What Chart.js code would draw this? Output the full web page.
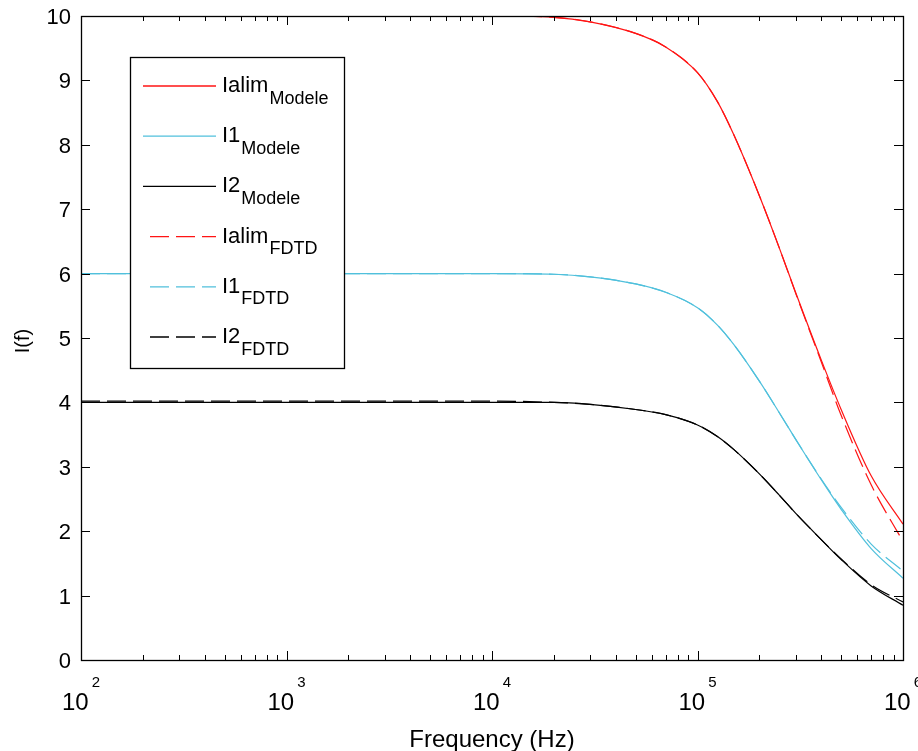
<!DOCTYPE html>
<html>
<head>
<meta charset="utf-8">
<script src="https://cdn.jsdelivr.net/npm/chart.js@4.4.1/dist/chart.umd.min.js"></script>
<style>
  html, body { margin: 0; padding: 0; background: #fff; }
  #wrap { width: 918px; height: 751px; position: relative; }
</style>
</head>
<body>
<div id="wrap"><canvas id="chart"></canvas></div>
<script>
const freqs = [100, 1000, 5000, 10000, 20000, 30000, 50000, 70000, 100000, 125000, 150000, 200000, 250000, 300000, 400000, 500000, 700000, 1000000];

const ialimModele = [10, 10, 10, 10, 9.98, 9.91, 9.73, 9.52, 9.12, 8.67, 8.16, 7.21, 6.40, 5.71, 4.66, 3.89, 2.86, 2.11];
const i1Modele    = [6, 6, 6, 6, 5.99, 5.95, 5.84, 5.71, 5.47, 5.20, 4.90, 4.33, 3.84, 3.43, 2.80, 2.34, 1.73, 1.27];
const i2Modele    = [4, 4, 4, 4, 4.0, 3.97, 3.89, 3.81, 3.65, 3.47, 3.27, 2.89, 2.56, 2.28, 1.87, 1.56, 1.15, 0.85];

const ialimFdtd = [10, 10, 10, 10, 9.98, 9.91, 9.73, 9.52, 9.12, 8.67, 8.16, 7.21, 6.40, 5.70, 4.63, 3.80, 2.72, 1.84];
const i1Fdtd    = [6, 6, 6, 6, 5.99, 5.95, 5.84, 5.71, 5.47, 5.20, 4.90, 4.33, 3.84, 3.43, 2.81, 2.37, 1.80, 1.38];
const i2Fdtd    = [4.02, 4.02, 4.02, 4.02, 4.0, 3.97, 3.89, 3.81, 3.65, 3.47, 3.27, 2.89, 2.56, 2.28, 1.87, 1.57, 1.17, 0.90];

const yTicks = [0, 1, 2, 3, 4, 5, 6, 7, 8, 9, 10];
const xDecades = [2, 3, 4, 5, 6];

const RED = 'rgb(255, 20, 20)';
const CYAN = 'rgb(80, 192, 220)';
const BLACK = '#000';
const DASH = [19, 7];

const series = [
    { main: 'Ialim', sub: 'Modele', data: ialimModele, color: RED, dash: [] },
    { main: 'I1', sub: 'Modele', data: i1Modele, color: CYAN, dash: [] },
    { main: 'I2', sub: 'Modele', data: i2Modele, color: BLACK, dash: [] },
    { main: 'Ialim', sub: 'FDTD', data: ialimFdtd, color: RED, dash: DASH },
    { main: 'I1', sub: 'FDTD', data: i1Fdtd, color: CYAN, dash: DASH },
    { main: 'I2', sub: 'FDTD', data: i2Fdtd, color: BLACK, dash: DASH }
];

const FONT = '"Liberation Sans", Arial, sans-serif';

// MATLAB-like frame: box, inward ticks, tick labels, titles and legend
const matlabFrame = {
    id: 'matlabFrame',
    afterDraw(chart) {
        const ctx = chart.ctx;
        const area = chart.chartArea;
        const xs = chart.scales.x;
        const ys = chart.scales.y;

        ctx.save();
        ctx.strokeStyle = '#000';
        ctx.fillStyle = '#000';

        // box
        ctx.lineWidth = 1.3;
        ctx.strokeRect(Math.round(area.left) + 0.5, Math.round(area.top) + 0.5,
            Math.round(area.right - area.left), Math.round(area.bottom - area.top));

        // x ticks (decades + minor)
        ctx.lineWidth = 1;
        ctx.beginPath();
        xDecades.forEach((d, i) => {
            const base = Math.pow(10, d);
            const px = Math.round(xs.getPixelForValue(base)) + 0.5;
            ctx.moveTo(px, area.bottom); ctx.lineTo(px, area.bottom - 9);
            ctx.moveTo(px, area.top); ctx.lineTo(px, area.top + 9);
            if (i < xDecades.length - 1) {
                for (let m = 2; m <= 9; m++) {
                    const mx = Math.round(xs.getPixelForValue(m * base)) + 0.5;
                    ctx.moveTo(mx, area.bottom); ctx.lineTo(mx, area.bottom - 5);
                    ctx.moveTo(mx, area.top); ctx.lineTo(mx, area.top + 5);
                }
            }
        });
        // y ticks both sides
        yTicks.forEach(v => {
            const py = Math.round(ys.getPixelForValue(v)) + 0.5;
            ctx.moveTo(area.left, py); ctx.lineTo(area.left + 9, py);
            ctx.moveTo(area.right, py); ctx.lineTo(area.right - 9, py);
        });
        ctx.stroke();

        // y tick labels
        ctx.font = '22px ' + FONT;
        ctx.textAlign = 'right';
        ctx.textBaseline = 'alphabetic';
        yTicks.forEach(v => {
            ctx.fillText(String(v), area.left - 10, ys.getPixelForValue(v) + 8);
        });

        // x tick labels: 10 with exponent
        ctx.textAlign = 'left';
        xDecades.forEach(d => {
            const px = xs.getPixelForValue(Math.pow(10, d));
            ctx.font = '24px ' + FONT;
            const wBase = ctx.measureText('10').width;
            ctx.font = '15px ' + FONT;
            const wExp = ctx.measureText(String(d)).width;
            const start = px - (wBase + 3 + wExp) / 2;
            ctx.font = '24px ' + FONT;
            ctx.fillText('10', start, 710);
            ctx.font = '15px ' + FONT;
            ctx.fillText(String(d), start + wBase + 3, 687);
        });

        // axis titles
        ctx.font = '24px ' + FONT;
        ctx.textAlign = 'center';
        ctx.fillText('Frequency (Hz)', (area.left + area.right) / 2, 747);

        ctx.save();
        ctx.translate(29, 341);
        ctx.rotate(-Math.PI / 2);
        ctx.font = '20px ' + FONT;
        ctx.fillText('I(f)', 0, 0);
        ctx.restore();

        // legend
        const lx = 130, ly = 57, lw = 214, lh = 311;
        ctx.fillStyle = '#fff';
        ctx.fillRect(lx, ly, lw, lh);
        ctx.lineWidth = 1.3;
        ctx.strokeStyle = '#000';
        ctx.strokeRect(lx + 0.5, ly + 0.5, lw, lh);

        series.forEach((s, i) => {
            const y = 86 + i * 50.2;
            ctx.save();
            ctx.strokeStyle = s.color;
            ctx.lineWidth = 1.3;
            ctx.setLineDash(s.dash);
            ctx.beginPath();
            ctx.moveTo(s.dash.length ? 150 : 143, y);
            ctx.lineTo(216, y);
            ctx.stroke();
            ctx.restore();

            ctx.fillStyle = '#000';
            ctx.textAlign = 'left';
            ctx.font = '22px ' + FONT;
            ctx.fillText(s.main, 222, y + 6);
            const w = ctx.measureText(s.main).width;
            ctx.font = '18px ' + FONT;
            ctx.fillText(s.sub, 222 + w + 1, y + 17.5);
        });

        ctx.restore();
    }
};

const datasets = series.map(s => ({
    label: s.main + ' ' + s.sub,
    data: freqs.map((f, k) => ({ x: f, y: s.data[k] })),
    borderColor: s.color,
    borderWidth: 1.2,
    borderDash: s.dash,
    pointRadius: 0,
    fill: false,
    cubicInterpolationMode: 'monotone',
    order: s.dash.length ? 0 : 1
}));

new Chart(document.getElementById('chart'), {
    type: 'line',
    data: { datasets: datasets },
    options: {
        responsive: true,
        maintainAspectRatio: false,
        animation: false,
        layout: {
            padding: { left: 81, top: 16, right: 15, bottom: 91 }
        },
        scales: {
            x: {
                type: 'logarithmic',
                display: false,
                min: 100,
                max: 1000000
            },
            y: {
                display: false,
                min: 0,
                max: 10
            }
        },
        plugins: {
            legend: { display: false },
            tooltip: { enabled: false }
        }
    },
    plugins: [matlabFrame]
});
</script>
</body>
</html>
